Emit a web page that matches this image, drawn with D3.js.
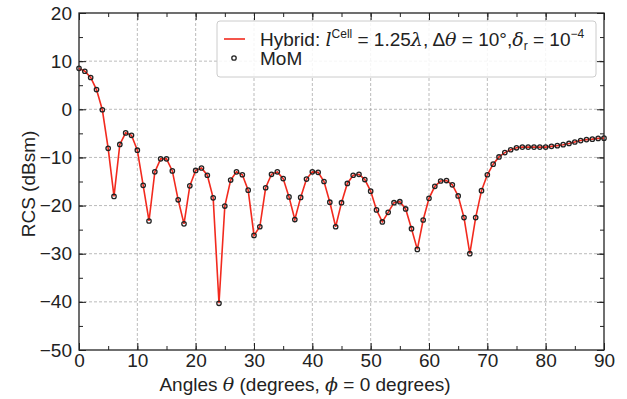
<!DOCTYPE html>
<html>
<head>
<meta charset="utf-8">
<script src="https://cdn.jsdelivr.net/npm/d3@7"></script>
<style>
  body { margin: 0; background: #fff; }
  text { font-family: "Liberation Sans", Arial, Helvetica, sans-serif; }
</style>
</head>
<body>
<div id="graph"></div>
<script>
const angles = d3.range(0, 91);
const rcs = [
  8.5, 7.9, 6.6, 4.1, -0.1, -8.1, -18.1, -7.3, -4.9, -5.4,
  -8.5, -15.8, -23.2, -13.0, -10.3, -10.3, -12.8, -18.8, -23.8, -15.9,
  -12.7, -12.2, -13.7, -18.4, -40.3, -20.1, -14.7, -13.0, -13.6, -16.8,
  -26.2, -24.4, -16.3, -13.5, -13.0, -14.4, -18.2, -22.9, -18.3, -14.5,
  -13.0, -13.1, -15.0, -19.3, -24.4, -19.4, -15.4, -13.7, -13.5, -14.6,
  -17.0, -20.9, -23.4, -21.4, -19.4, -19.2, -20.7, -24.8, -29.1, -23.0,
  -18.5, -16.0, -14.9, -14.8, -15.7, -18.0, -22.5, -30.0, -22.5, -16.9,
  -13.6, -11.4, -9.9, -9.0, -8.4, -8.0, -7.85, -7.85, -7.85, -7.85,
  -7.85, -7.7, -7.55, -7.35, -7.1, -6.8, -6.5, -6.3, -6.2, -6.05,
  -6.0
];
const xTicks = [0, 10, 20, 30, 40, 50, 60, 70, 80, 90];
const yTicks = [20, 10, 0, -10, -20, -30, -40, -50];

const margin = {top: 13, right: 23, bottom: 49, left: 79};
const width = 627 - margin.left - margin.right;
const height = 399 - margin.top - margin.bottom;
const fontSize = 19;
const sans = '"Liberation Sans", Arial, Helvetica, sans-serif';
const serif = '"DejaVu Serif", serif';
const ink = '#222';

const x = d3.scaleLinear().domain([0, 90]).range([0, width]);
const y = d3.scaleLinear().domain([-50, 20]).range([height, 0]);

const svg = d3.select('#graph').append('svg')
  .attr('width', 627)
  .attr('height', 399);
const g = svg.append('g')
  .attr('transform', 'translate(' + margin.left + ',' + margin.top + ')');

// grid
g.append('g').selectAll('line').data(xTicks.slice(1, -1)).join('line')
  .attr('x1', d => x(d)).attr('x2', d => x(d))
  .attr('y1', 0).attr('y2', height)
  .attr('stroke', '#aaa').attr('stroke-width', 0.8).attr('stroke-dasharray', '3,2');
g.append('g').selectAll('line').data(yTicks.slice(1, -1)).join('line')
  .attr('y1', d => y(d)).attr('y2', d => y(d))
  .attr('x1', 0).attr('x2', width)
  .attr('stroke', '#aaa').attr('stroke-width', 0.8).attr('stroke-dasharray', '3,2');

// axes with inward ticks
const fmt = d => (d < 0 ? '\u2212' + Math.abs(d) : '' + d);
const xMinor = d3.range(0, 91, 5);
const yMinor = d3.range(-50, 21, 5);

function ticksOn(sel, axis) {
  sel.call(axis);
  sel.select('.domain').remove();
  sel.selectAll('.tick line').attr('stroke', ink).attr('stroke-width', 1);
}

ticksOn(g.append('g').attr('transform', 'translate(0,' + height + ')'),
  d3.axisBottom(x).tickValues(xMinor).tickSize(-4).tickFormat(''));
const xb = g.append('g').attr('transform', 'translate(0,' + height + ')');
ticksOn(xb, d3.axisBottom(x).tickValues(xTicks).tickSize(-7).tickPadding(4).tickFormat(fmt));
xb.selectAll('text').attr('font-size', fontSize).attr('fill', ink).attr('font-family', sans);

ticksOn(g.append('g'), d3.axisTop(x).tickValues(xMinor).tickSize(-4).tickFormat(''));
ticksOn(g.append('g'), d3.axisTop(x).tickValues(xTicks).tickSize(-7).tickFormat(''));

ticksOn(g.append('g'), d3.axisLeft(y).tickValues(yMinor).tickSize(-4).tickFormat(''));
const yl = g.append('g');
ticksOn(yl, d3.axisLeft(y).tickValues(yTicks).tickSize(-7).tickPadding(7).tickFormat(fmt));
yl.selectAll('text').attr('font-size', fontSize).attr('fill', ink).attr('font-family', sans);

ticksOn(g.append('g').attr('transform', 'translate(' + width + ',0)'),
  d3.axisRight(y).tickValues(yMinor).tickSize(-4).tickFormat(''));
ticksOn(g.append('g').attr('transform', 'translate(' + width + ',0)'),
  d3.axisRight(y).tickValues(yTicks).tickSize(-7).tickFormat(''));

// frame
g.append('rect').attr('width', width).attr('height', height)
  .attr('fill', 'none').attr('stroke', ink).attr('stroke-width', 1.3);

// hybrid line
const line = d3.line()
  .x((d, i) => x(angles[i]))
  .y(d => y(d));
g.append('path')
  .attr('d', line(rcs))
  .attr('fill', 'none')
  .attr('stroke', '#f22a1e')
  .attr('stroke-width', 1.6);

// MoM markers
g.append('g').selectAll('circle').data(rcs).join('circle')
  .attr('cx', (d, i) => x(angles[i]))
  .attr('cy', d => y(d))
  .attr('r', 2.2)
  .attr('fill', 'none')
  .attr('stroke', ink)
  .attr('stroke-width', 1.3);

// axis titles
svg.append('text')
  .attr('x', 305).attr('y', 391)
  .attr('text-anchor', 'middle').attr('font-size', fontSize).attr('fill', ink)
  .call(t => {
    t.append('tspan').text('Angles ');
    t.append('tspan').attr('font-style', 'italic').attr('font-family', serif).text('\u03b8');
    t.append('tspan').text(' (degrees, ');
    t.append('tspan').attr('font-style', 'italic').attr('font-family', serif).text('\u03d5');
    t.append('tspan').text(' = 0 degrees)');
  });

svg.append('text')
  .attr('transform', 'translate(35,184) rotate(-90)')
  .attr('text-anchor', 'middle').attr('font-size', fontSize).attr('fill', ink)
  .text('RCS (dBsm)');

// legend
const lg = svg.append('g');
lg.append('rect')
  .attr('x', 217).attr('y', 21).attr('width', 379).attr('height', 56)
  .attr('rx', 3)
  .attr('fill', 'rgba(255,255,255,0.85)')
  .attr('stroke', '#ccc').attr('stroke-width', 1);
lg.append('line')
  .attr('x1', 224).attr('x2', 245).attr('y1', 39).attr('y2', 39)
  .attr('stroke', '#f22a1e').attr('stroke-width', 1.6);
lg.append('circle')
  .attr('cx', 234).attr('cy', 58).attr('r', 2.2)
  .attr('fill', 'none').attr('stroke', ink).attr('stroke-width', 1.3);

lg.append('text').attr('x', 260).attr('y', 46).attr('font-size', fontSize).attr('fill', ink)
  .call(t => {
    t.append('tspan').text('Hybrid: ');
    t.append('tspan').attr('font-style', 'italic').attr('font-family', serif).text('l');
    t.append('tspan').attr('font-size', 12).attr('dy', -8).text('Cell');
    t.append('tspan').attr('dy', 8).text(' = 1.25');
    t.append('tspan').attr('font-style', 'italic').attr('font-family', serif).text('\u03bb');
    t.append('tspan').text(', \u0394');
    t.append('tspan').attr('font-style', 'italic').attr('font-family', serif).text('\u03b8');
    t.append('tspan').text(' = 10\u00b0,');
    t.append('tspan').attr('font-style', 'italic').attr('font-family', serif).text('\u03b4');
    t.append('tspan').attr('font-size', 12).attr('dy', 4).text('r');
    t.append('tspan').attr('dy', -4).text(' = 10');
    t.append('tspan').attr('font-size', 12).attr('dy', -8).text('\u22124');
  });
lg.append('text').attr('x', 260).attr('y', 65).attr('font-size', fontSize).attr('fill', ink)
  .text('MoM');
</script>
</body>
</html>
